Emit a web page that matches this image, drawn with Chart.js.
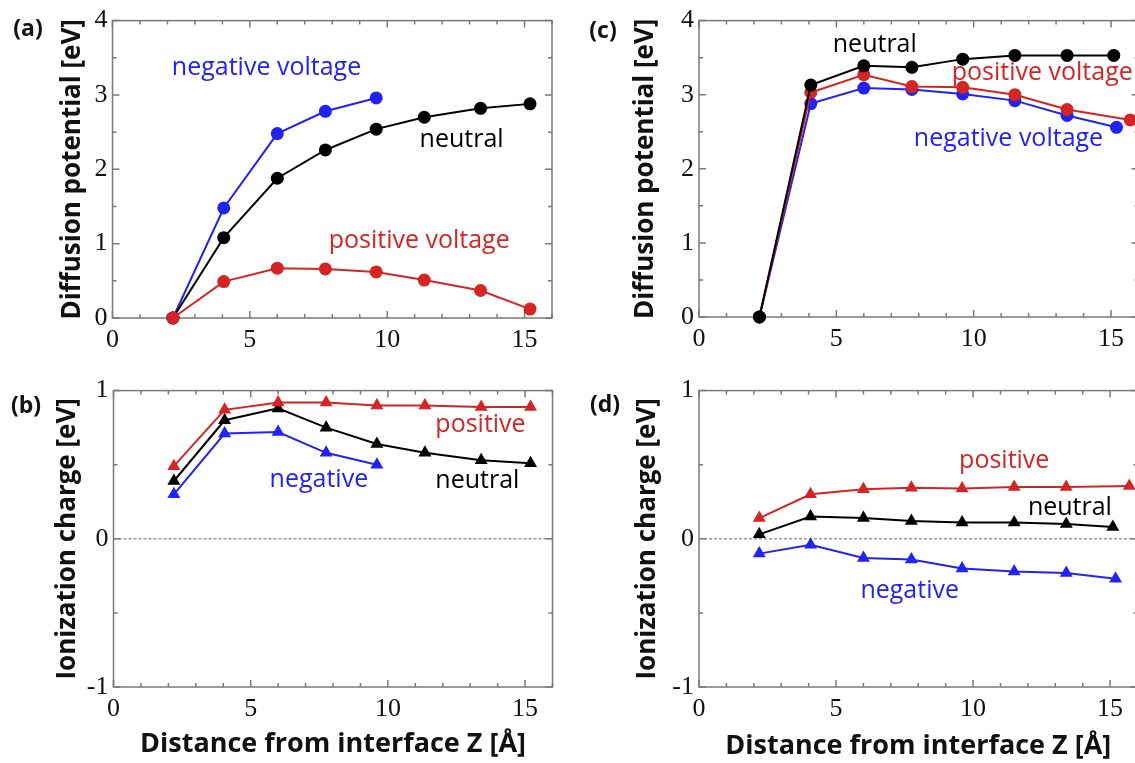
<!DOCTYPE html>
<html>
<head>
<meta charset="utf-8">
<script src="https://cdn.jsdelivr.net/npm/chart.js@4.4.1/dist/chart.umd.min.js"></script>
<style>
  html, body { margin: 0; padding: 0; background: #fff; overflow: hidden; }
  #wrap { position: relative; width: 1135px; height: 763px; overflow: hidden; }
  canvas { position: absolute; }
</style>
</head>
<body>
<div id="wrap">
  <canvas id="pa" width="560" height="365" style="left:0;top:0"></canvas>
  <canvas id="pc" width="585" height="365" style="left:560px;top:0"></canvas>
  <canvas id="pb" width="560" height="393" style="left:0;top:370px"></canvas>
  <canvas id="pd" width="585" height="393" style="left:560px;top:370px"></canvas>
</div>
<script>
// distance from interface Z [Å]
const zLeft = [2.2, 4.05, 6.0, 7.75, 9.6, 11.35, 13.4, 15.2];
const zLeftNeg = [2.2, 4.05, 6.0, 7.75, 9.6];
const zRight = [2.2, 4.07, 6.0, 7.75, 9.6, 11.5, 13.4, 15.1];
const zRightPos = [2.2, 4.07, 6.0, 7.75, 9.6, 11.5, 13.4, 15.7];
const zRightNeg = [2.2, 4.07, 6.0, 7.75, 9.6, 11.5, 13.4, 15.2];

// (a) diffusion potential [eV]
const aNeutral = [0, 1.08, 1.88, 2.26, 2.54, 2.70, 2.82, 2.88];
const aNegative = [0, 1.48, 2.48, 2.78, 2.96];
const aPositive = [0, 0.49, 0.67, 0.66, 0.62, 0.51, 0.37, 0.12];

// (b) ionization charge [eV]
const bPositive = [0.49, 0.87, 0.92, 0.92, 0.90, 0.90, 0.89, 0.89];
const bNeutral = [0.39, 0.80, 0.88, 0.75, 0.64, 0.58, 0.53, 0.51];
const bNegative = [0.30, 0.71, 0.72, 0.58, 0.50];

// (c) diffusion potential [eV]
const cNeutral = [0, 3.13, 3.39, 3.37, 3.48, 3.53, 3.53, 3.53];
const cPositive = [0, 3.03, 3.27, 3.11, 3.10, 3.00, 2.80, 2.66];
const cNegative = [0, 2.88, 3.09, 3.07, 3.01, 2.92, 2.72, 2.56];

// (d) ionization charge [eV]
const dPositive = [0.14, 0.30, 0.335, 0.345, 0.34, 0.35, 0.35, 0.357];
const dNeutral = [0.03, 0.15, 0.14, 0.12, 0.11, 0.11, 0.10, 0.08];
const dNegative = [-0.10, -0.04, -0.13, -0.14, -0.20, -0.22, -0.23, -0.27];

const xTicks = [0, 5, 10, 15];
const potTicks = [0, 1, 2, 3, 4];
const chargeTicks = [-1, 0, 1];

const BLACK = '#000000';
const RED = '#d42424';
const BLUE = '#2222f2';

const pts = (xs, ys) => ys.map((v, i) => ({ x: xs[i], y: v }));

function series(xs, ys, color, style) {
  return {
    data: pts(xs, ys),
    borderColor: color,
    backgroundColor: color,
    borderWidth: 2,
    pointStyle: style,
    pointRadius: style === 'triangle' ? 7.5 : 6.5,
    pointBorderWidth: 0,
    clip: false
  };
}

const framePlugin = {
  id: 'frame',
  beforeDatasetsDraw(chart, args, o) {
    const { ctx, chartArea: a, scales: { x, y } } = chart;
    ctx.save();
    if (o.zero) {
      const y0 = y.getPixelForValue(0);
      ctx.strokeStyle = '#9a9a9a';
      ctx.lineWidth = 1.5;
      ctx.setLineDash([3, 2]);
      ctx.beginPath();
      ctx.moveTo(a.left, y0);
      ctx.lineTo(a.right, y0);
      ctx.stroke();
      ctx.setLineDash([]);
    }
    ctx.strokeStyle = '#7a7a7a';
    ctx.lineWidth = 1.5;
    ctx.strokeRect(a.left, a.top, a.right - a.left, a.bottom - a.top);
    ctx.beginPath();
    for (let v = x.min; v <= x.max; v += 1) {
      const px = x.getPixelForValue(v);
      const len = v % 5 === 0 ? 7 : 4;
      ctx.moveTo(px, a.bottom); ctx.lineTo(px, a.bottom - len);
      ctx.moveTo(px, a.top); ctx.lineTo(px, a.top + len);
    }
    for (let v = y.min; v <= y.max + 1e-9; v += 0.5) {
      const py = y.getPixelForValue(v);
      const len = Math.abs(v % 1) < 1e-9 ? 7 : 4;
      ctx.moveTo(a.left, py); ctx.lineTo(a.left + len, py);
      ctx.moveTo(a.right, py); ctx.lineTo(a.right - len, py);
    }
    ctx.stroke();
    ctx.restore();
  },
  afterDraw(chart, args, o) {
    const { ctx, scales: { x, y } } = chart;
    ctx.save();
    ctx.textBaseline = 'middle';
    ctx.textAlign = 'left';
    ctx.font = '25px "Open Sans", sans-serif';
    (o.notes || []).forEach(n => {
      ctx.fillStyle = n.color;
      ctx.fillText(n.text, x.getPixelForValue(n.x), y.getPixelForValue(n.y));
    });
    ctx.fillStyle = '#111';
    ctx.textAlign = 'center';
    ctx.font = 'bold 23px "Open Sans", sans-serif';
    ctx.fillText(o.label.text, o.label.left, o.label.top);
    ctx.restore();
  }
};

function makePanel(id, cfg) {
  const xScale = {
    type: 'linear',
    min: 0,
    max: 16,
    afterBuildTicks: s => { s.ticks = xTicks.map(v => ({ value: v })); },
    afterFit: s => { s.height = cfg.xHeight; },
    grid: { display: false, drawTicks: false },
    border: { display: false },
    ticks: {
      color: '#111',
      padding: 7,
      maxRotation: 0,
      font: { family: '"Liberation Serif", serif', size: 26 }
    },
    title: {
      display: !!cfg.xTitle,
      text: cfg.xTitle || '',
      color: '#111',
      padding: { top: 0, bottom: cfg.xTitlePad || 0 },
      font: { family: '"Open Sans", sans-serif', size: 27, weight: 'bold' }
    }
  };
  const yScale = {
    type: 'linear',
    min: cfg.yTicks[0],
    max: cfg.yTicks[cfg.yTicks.length - 1],
    afterBuildTicks: s => { s.ticks = cfg.yTicks.map(v => ({ value: v })); },
    afterFit: s => { s.width = cfg.yWidth; },
    grid: { display: false, drawTicks: false },
    border: { display: false },
    ticks: {
      color: '#111',
      padding: 5,
      font: { family: '"Liberation Serif", serif', size: 26 }
    },
    title: {
      display: true,
      text: cfg.yTitle,
      color: '#111',
      padding: { top: cfg.yTitleLeft, bottom: 0 },
      font: { family: '"Open Sans", sans-serif', size: 26, weight: 'bold' }
    }
  };
  return new Chart(document.getElementById(id), {
    type: 'line',
    data: { datasets: cfg.datasets },
    options: {
      responsive: false,
      animation: false,
      devicePixelRatio: 1,
      layout: { padding: cfg.padding },
      scales: { x: xScale, y: yScale },
      plugins: {
        legend: { display: false },
        tooltip: { enabled: false },
        frame: { zero: cfg.zero, notes: cfg.notes, label: cfg.label }
      }
    },
    plugins: [framePlugin]
  });
}

Chart.defaults.font.family = '"Open Sans", sans-serif';

makePanel('pa', {
  padding: { top: 19, right: 8, left: 0, bottom: 0 },
  yWidth: 112.5, xHeight: 47, yTitleLeft: 57,
  yTicks: potTicks,
  yTitle: 'Diffusion potential [eV]',
  label: { text: '(a)', left: 28, top: 29 },
  datasets: [
    series(zLeft, aPositive, RED, 'circle'),
    series(zLeft, aNeutral, BLACK, 'circle'),
    series(zLeftNeg, aNegative, BLUE, 'circle')
  ],
  notes: [
    { text: 'negative voltage', x: 2.16, y: 3.37, color: BLUE },
    { text: 'neutral', x: 11.18, y: 2.39, color: BLACK },
    { text: 'positive voltage', x: 7.87, y: 1.04, color: RED }
  ]
});

makePanel('pc', {
  padding: { top: 17, right: 6, left: 0, bottom: 0 },
  yWidth: 139, xHeight: 48, yTitleLeft: 70,
  yTicks: potTicks,
  yTitle: 'Diffusion potential [eV]',
  label: { text: '(c)', left: 43, top: 31 },
  datasets: [
    series(zRight, cNeutral, BLACK, 'circle'),
    series(zRightPos, cPositive, RED, 'circle'),
    series(zRightNeg, cNegative, BLUE, 'circle')
  ],
  notes: [
    { text: 'neutral', x: 4.87, y: 3.67, color: BLACK },
    { text: 'positive voltage', x: 9.2, y: 3.29, color: RED },
    { text: 'negative voltage', x: 7.82, y: 2.4, color: BLUE }
  ]
});

makePanel('pb', {
  padding: { top: 17, right: 6.4, left: 0, bottom: 0 },
  yWidth: 113.5, xHeight: 76, yTitleLeft: 52,
  yTicks: chargeTicks, zero: true,
  yTitle: 'Ionization charge [eV]',
  xTitle: 'Distance from interface Z [Å]', xTitlePad: 2,
  label: { text: '(b)', left: 26, top: 36 },
  datasets: [
    series(zLeft, bPositive, RED, 'triangle'),
    series(zLeft, bNeutral, BLACK, 'triangle'),
    series(zLeftNeg, bNegative, BLUE, 'triangle')
  ],
  notes: [
    { text: 'positive', x: 11.73, y: 0.77, color: RED },
    { text: 'negative', x: 5.69, y: 0.40, color: BLUE },
    { text: 'neutral', x: 11.73, y: 0.39, color: BLACK }
  ]
});

makePanel('pd', {
  padding: { top: 18, right: 6, left: 0, bottom: 0 },
  yWidth: 139, xHeight: 76, yTitleLeft: 72,
  yTicks: chargeTicks, zero: true,
  yTitle: 'Ionization charge [eV]',
  xTitle: 'Distance from interface Z [Å]', xTitlePad: 0,
  label: { text: '(d)', left: 45, top: 35 },
  datasets: [
    series(zRightPos, dPositive, RED, 'triangle'),
    series(zRight, dNeutral, BLACK, 'triangle'),
    series(zRightNeg, dNegative, BLUE, 'triangle')
  ],
  notes: [
    { text: 'positive', x: 9.49, y: 0.525, color: RED },
    { text: 'neutral', x: 12.0, y: 0.21, color: BLACK },
    { text: 'negative', x: 5.89, y: -0.35, color: BLUE }
  ]
});
</script>
</body>
</html>
